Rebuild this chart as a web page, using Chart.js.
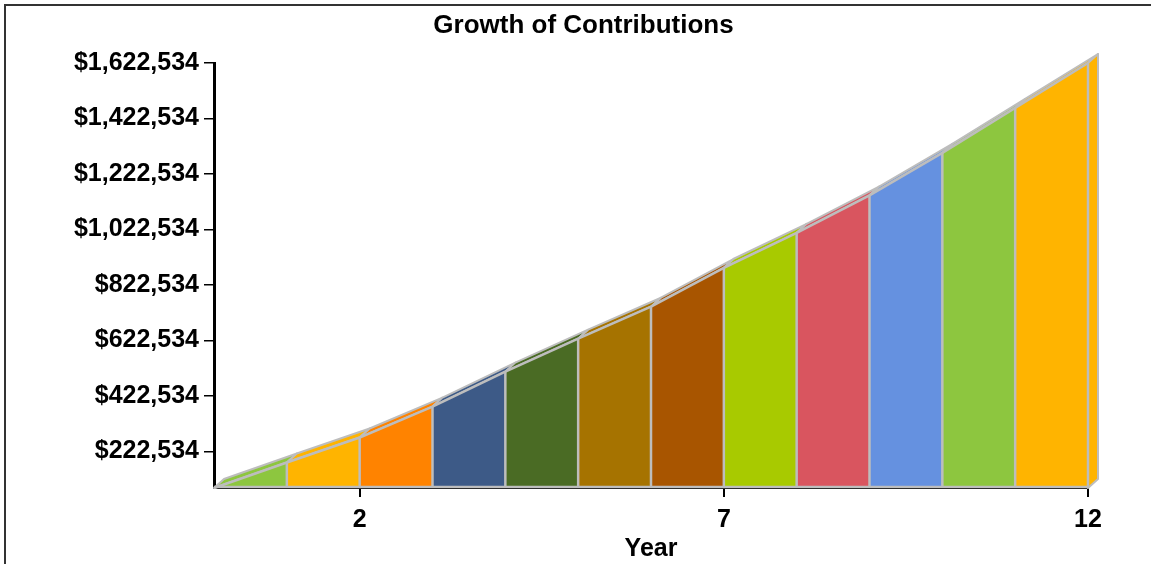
<!DOCTYPE html>
<html>
<head>
<meta charset="utf-8">
<script src="https://cdn.jsdelivr.net/npm/chart.js@4.4.1/dist/chart.umd.min.js"></script>
<style>
  html, body { margin: 0; padding: 0; background: #fff; }
  #wrap { width: 1151px; height: 564px; position: relative; }
</style>
</head>
<body>
<div id="wrap"><canvas id="growthChart" width="1151" height="564"></canvas></div>
<script>
// Data
const years = [0, 1, 2, 3, 4, 5, 6, 7, 8, 9, 10, 11, 12];
const balances = [91200, 183000, 273000, 384500, 510500, 629200, 744400, 884700, 1010700, 1145700, 1298600, 1460600, 1622534];
const segmentColors = ['#8DC63F', '#FFB400', '#FF8300', '#3D5A87', '#4A6B24', '#A67300',
                       '#A85500', '#A8CA00', '#D9555F', '#6591E0', '#8DC63F', '#FFB400'];
const yTickValues = [222534, 422534, 622534, 822534, 1022534, 1222534, 1422534, 1622534];
const xTickValues = [2, 7, 12];

const EDGE = '#BDBDBD';
const DEPTH_X = 10;
const DEPTH_Y = 9;
const FONT = { family: "'Liberation Sans', Arial, sans-serif", size: 25, weight: 'bold' };
const TITLE_FONT = { family: "'Liberation Sans', Arial, sans-serif", size: 26, weight: 'bold' };

// frame round the picture
const framePlugin = {
    id: 'frame',
    beforeDraw(chart) {
        const c = chart.ctx;
        c.save();
        c.strokeStyle = '#333';
        c.lineWidth = 2;
        c.strokeRect(5, 5, chart.width + 50, chart.height + 50);
        c.restore();
    }
};

// fake 3D: top faces, right side, separators
const depthPlugin = {
    id: 'depth3d',
    beforeDatasetsDraw(chart) {
        const c = chart.ctx;
        const pts = chart.getDatasetMeta(0).data;
        const base = chart.chartArea.bottom;
        c.save();
        c.lineJoin = 'round';
        c.strokeStyle = EDGE;
        c.lineWidth = 2;
        for (let i = 0; i < pts.length - 1; i++) {
            const a = pts[i], b = pts[i + 1];
            c.beginPath();
            c.moveTo(a.x, a.y);
            c.lineTo(b.x, b.y);
            c.lineTo(b.x + DEPTH_X, b.y - DEPTH_Y);
            c.lineTo(a.x + DEPTH_X, a.y - DEPTH_Y);
            c.closePath();
            c.fillStyle = segmentColors[i];
            c.fill();
            c.stroke();
        }
        const last = pts[pts.length - 1];
        c.beginPath();
        c.moveTo(last.x, last.y);
        c.lineTo(last.x + DEPTH_X, last.y - DEPTH_Y);
        c.lineTo(last.x + DEPTH_X, base - DEPTH_Y);
        c.lineTo(last.x, base);
        c.closePath();
        c.fillStyle = segmentColors[segmentColors.length - 1];
        c.fill();
        c.stroke();
        c.restore();
    },
    afterDatasetsDraw(chart) {
        const c = chart.ctx;
        const pts = chart.getDatasetMeta(0).data;
        const base = chart.chartArea.bottom;
        c.save();
        c.strokeStyle = EDGE;
        c.lineWidth = 2.5;
        for (let i = 1; i < pts.length; i++) {
            c.beginPath();
            c.moveTo(pts[i].x, base);
            c.lineTo(pts[i].x, pts[i].y);
            c.stroke();
        }
        c.beginPath();
        c.moveTo(pts[0].x, base - 1);
        c.lineTo(pts[pts.length - 1].x, base - 1);
        c.stroke();
        c.restore();
    }
};

new Chart(document.getElementById('growthChart'), {
    type: 'line',
    data: {
        datasets: [{
            data: years.map((x, i) => ({ x: x, y: balances[i] })),
            borderColor: EDGE,
            borderWidth: 2.5,
            pointRadius: 0,
            tension: 0,
            fill: 'start',
            backgroundColor: segmentColors[0],
            segment: { backgroundColor: ctx => segmentColors[ctx.p0DataIndex] },
            clip: false
        }]
    },
    options: {
        responsive: false,
        animation: false,
        devicePixelRatio: 1,
        layout: { padding: { left: 16, right: 0, top: 0, bottom: 0 } },
        plugins: {
            legend: { display: false },
            tooltip: { enabled: false },
            title: {
                display: true,
                text: 'Growth of Contributions',
                color: '#000',
                font: TITLE_FONT,
                padding: { top: 10.4, bottom: 21.4 }
            }
        },
        scales: {
            x: {
                type: 'linear',
                min: 0,
                max: 12,
                z: 1,
                afterBuildTicks: s => { s.ticks = xTickValues.map(v => ({ value: v })); },
                afterFit: s => { s.height = 76; },
                grid: { drawOnChartArea: false, drawTicks: true, tickLength: 9, color: '#000', lineWidth: 2 },
                border: { display: true, color: '#000', width: 2 },
                ticks: { color: '#000', font: FONT, padding: 8, autoSkip: false, maxRotation: 0 },
                title: { display: true, text: 'Year', color: '#000', font: FONT, padding: { top: 0, bottom: 0 } }
            },
            y: {
                min: Math.min(...balances),
                max: Math.max(...balances),
                z: 1,
                afterBuildTicks: s => { s.ticks = yTickValues.map(v => ({ value: v })); },
                afterFit: s => { s.width = 198; },
                grid: { drawOnChartArea: false, drawTicks: true, tickLength: 10, color: '#000', lineWidth: 1.5 },
                border: { display: true, color: '#000', width: 3 },
                ticks: {
                    color: '#000',
                    font: FONT,
                    padding: 5,
                    callback: v => '$' + Number(v).toLocaleString('en-US')
                }
            },
            // empty axis on the right that only keeps room for the depth face
            yRight: {
                position: 'right',
                display: true,
                min: 0,
                max: 1,
                afterFit: s => { s.width = 63; },
                grid: { display: false },
                border: { display: false },
                ticks: { display: false }
            }
        }
    },
    plugins: [framePlugin, depthPlugin]
});
</script>
</body>
</html>
